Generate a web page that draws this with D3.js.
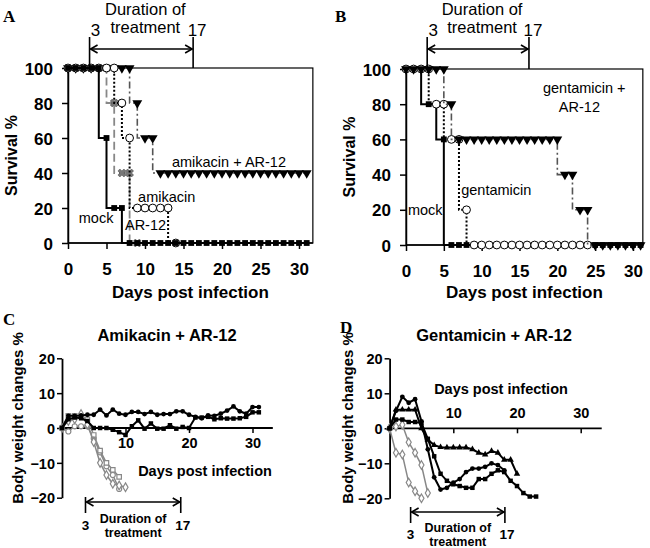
<!DOCTYPE html>
<html><head><meta charset="utf-8">
<script src="https://cdn.jsdelivr.net/npm/d3@7"></script>
<style>
body{margin:0;background:#fff}
svg{display:block;background:#fff}
text{font-family:Arial,"Liberation Sans",sans-serif;fill:#000}
.letter{font-family:"Times New Roman","Liberation Serif",serif;font-weight:bold}
</style>
</head><body>
<svg id="c" width="650" height="548"></svg>
<script>
// ---------- DATA ----------
const survTicks = [0,20,40,60,80,100];
const dayTicks = [0,5,10,15,20,25,30];
const bwTicks = [-20,-10,0,10,20];
const bwDayTicks = [10,20,30];

// Panel A: survival % per day (index = day)
const mockA   = [100,100,100,100,100,60,20,20,0,0,0,0,0,0,0,0,0,0,0,0,0,0,0,0,0,0,0,0,0,0,0,0];
const ar12A   = [100,100,100,100,100,100,80,40,40,0];
const amikA   = [100,100,100,100,100,100,100,80,60,20,20,20,20,20,0];
const amikArA = [100,100,100,100,100,100,100,100,100,80,60,60,40,40,40,40,40,40,40,40,40,40,40,40,40,40,40,40,40,40,40,40];

// Panel B
const mockB   = [100,100,100,80,80,60,0,0,0,0,0,0,0,0,0,0,0,0,0,0,0,0,0,0,0,0,0,0,0,0,0,0];
const gentB   = [100,100,100,100,80,80,60,60,20,0,0,0,0,0,0,0,0,0,0,0,0,0,0,0,0];
const gentArB = [100,100,100,100,100,100,80,60,60,60,60,60,60,60,60,60,60,60,60,60,60,40,40,20,20,0,0,0,0,0,0,0];

// Panel C: body weight change % per day (index = day)
const cBlackCirc = [0,3.5,3.5,3.6,3.8,3.8,5.3,3.6,5.3,4.1,3.8,4.6,4.6,4,4.6,3.8,4,4,4.8,4.8,3.8,3.2,2.8,3.6,3.5,4.1,5,6.2,4.8,4.1,6,6];
const cBlackSq   = [0,2.5,3,2.8,2,0,0,0,-0.5,-1.2,-2,0.5,2.2,-0.2,1.3,-0.2,-0.2,0.8,-0.2,0.3,0,3,3,3.2,2.5,2.8,2.7,2.7,2.8,3.2,4.5,4.5];
const cGrayCirc  = [0,-1,0.5,0.5,0.5,-3,-7,-11,-13.5,-17.5];
const cGraySq    = [0,3.5,3.5,3.5,2.5,-2,-6.5,-10,-12,-14];
const cGrayDiam  = [0,2,2.5,4,1,-4,-10,-13.5,-16,-16.5,-17];

// Panel D
const dBlackTri  = [0,5.3,5.3,5.3,5.3,0,-3.3,-4.8,-5.4,-5.5,-5.5,-5.5,-5.5,-6,-7,-7.5,-6.5,-7,-9,-9,-13];
const dBlackCirc = [0,5,9,7.3,8.3,2,-6,-14,-17.5,-17,-15.5,-14.5,-12.5,-11.5,-11.5,-11,-10,-10.5,-12];
const dBlackSq   = [0,2.5,2.5,1.8,1.8,1.5,-3,-8,-13,-15,-16,-16.5,-17,-17,-14.5,-14.5,-13,-12,-12.5,-15,-16.5,-18.5,-19.5,-19.5];
const dGray1     = [0,-7,-7.5,-15.5,-18,-20];
const dGray2     = [0,0.5,1,-4,-7,-10.5,-18.5];

const treatStart = 3, treatEnd = 17;

// ---------- DRAW ----------
const svg = d3.select('#c');
svg.append('rect').attr('width',650).attr('height',548).attr('fill','#fff');

const toPts = arr => arr.map((v,i)=>[i,v]);

function sym(type,size){ return d3.symbol().type(type).size(size)(); }

const markers = {
  sq:   {path: sym(d3.symbolSquare,34), fill:'#000', stroke:'none', rot:0},
  x:    {path: sym(d3.symbolCross,40), fill:'#777', stroke:'#333', rot:45, sw:0.4},
  circ: {path: sym(d3.symbolCircle,48), fill:'#fff', stroke:'#000', rot:0, sw:1},
  tri:  {path: sym(d3.symbolTriangle,42), fill:'#000', stroke:'none', rot:180},
  // small markers for weight panels
  bc:   {path: sym(d3.symbolCircle,18), fill:'#000', stroke:'none', rot:0},
  bs:   {path: sym(d3.symbolSquare,20), fill:'#000', stroke:'none', rot:0},
  bt:   {path: sym(d3.symbolTriangle,18), fill:'#000', stroke:'none', rot:0},
  gc:   {path: sym(d3.symbolCircle,20), fill:'#fff', stroke:'#888', rot:0, sw:1.2},
  gs:   {path: sym(d3.symbolSquare,20), fill:'#fff', stroke:'#888', rot:0, sw:1.2},
  gd:   {path: sym(d3.symbolDiamond,22), fill:'#fff', stroke:'#888', rot:0, sw:1.2}
};

function drawSeries(g, x, y, s, curve){
  const pts = toPts(s.values);
  const line = d3.line().x(d=>x(d[0])).y(d=>y(d[1])).curve(curve);
  g.append('path').attr('d', line(pts)).attr('fill','none')
    .attr('stroke', s.color).attr('stroke-width', s.width)
    .attr('stroke-dasharray', s.dash || null);
  const m = markers[s.marker];
  g.selectAll(null).data(pts).enter().append('path')
    .attr('d', m.path)
    .attr('transform', d=>`translate(${x(d[0])},${y(d[1])}) rotate(${m.rot})`)
    .attr('fill', m.fill).attr('stroke', m.stroke).attr('stroke-width', m.sw||0);
}

function styleAxis(a, fs){
  a.select('.domain').attr('stroke','#000').attr('stroke-width',1.5);
  a.selectAll('.tick line').attr('stroke','#000').attr('stroke-width',1.5);
  a.selectAll('.tick text').attr('font-size',fs).attr('font-weight','bold')
    .attr('font-family','Arial, "Liberation Sans", sans-serif').attr('fill','#000');
}

function arrowAnno(g, xa, xb, yTop, yBot, yArr){
  g.append('line').attr('x1',xa).attr('x2',xa).attr('y1',yTop).attr('y2',yBot).attr('stroke','#000').attr('stroke-width',1.6);
  g.append('line').attr('x1',xb).attr('x2',xb).attr('y1',yTop).attr('y2',yBot).attr('stroke','#000').attr('stroke-width',1.6);
  g.append('line').attr('x1',xa+1).attr('x2',xb-1).attr('y1',yArr).attr('y2',yArr).attr('stroke','#000').attr('stroke-width',1.6);
  g.append('path').attr('d',`M${xa+8},${yArr-4}L${xa+1},${yArr}L${xa+8},${yArr+4}`).attr('fill','none').attr('stroke','#000').attr('stroke-width',1.6);
  g.append('path').attr('d',`M${xb-8},${yArr-4}L${xb-1},${yArr}L${xb-8},${yArr+4}`).attr('fill','none').attr('stroke','#000').attr('stroke-width',1.6);
}

function txt(g, x, y, s, opts={}){
  const t = g.append('text').attr('x',x).attr('y',y).text(s)
    .attr('font-size', opts.fs||14).attr('text-anchor', opts.anchor||'start')
    .attr('font-weight', opts.bold?'bold':'normal');
  if(opts.cls) t.attr('class',opts.cls);
  if(opts.rot) t.attr('transform',`rotate(${opts.rot},${x},${y})`);
  return t;
}

// ---- Survival panels ----
function survivalPanel(cfg){
  const g = svg.append('g');
  const x = d3.scaleLinear().domain([0,30]).range(cfg.xr);
  const y = d3.scaleLinear().domain([0,100]).range(cfg.yr);
  // frame
  g.append('rect').attr('x',x(0)).attr('y',y(100)).attr('width',x(cfg.xmax)-x(0)).attr('height',y(0)-y(100))
    .attr('fill','none').attr('stroke','#000').attr('stroke-width',1.2);
  const ax = g.append('g').attr('transform',`translate(0,${y(0)})`)
    .call(d3.axisBottom(x).tickValues(dayTicks).tickSize(6).tickSizeOuter(0).tickPadding(14));
  styleAxis(ax,17); ax.select('.domain').remove();
  const ay = g.append('g').attr('transform',`translate(${x(0)},0)`)
    .call(d3.axisLeft(y).tickValues(survTicks).tickSize(6).tickSizeOuter(0).tickPadding(9));
  styleAxis(ay,17);
  ay.selectAll('.tick text').attr('dy','0.36em');
  g.append('line').attr('x1',x(0)).attr('x2',x(cfg.xmax)).attr('y1',y(0)).attr('y2',y(0)).attr('stroke','#000').attr('stroke-width',1.5);

  cfg.series.forEach(s=>drawSeries(g,x,y,s,d3.curveStepBefore));

  // axis titles
  txt(g, (x(0)+x(cfg.xmax))/2, 298, 'Days post infection', {fs:17,bold:true,anchor:'middle'});
  txt(g, cfg.ylabX, (y(0)+y(100))/2, 'Survival %', {fs:16,bold:true,anchor:'middle',rot:-90});
  // treatment annotation
  const xa = x(2.8), xb = x(16.25);
  arrowAnno(g, xa, xb, 37, y(100), 49);
  txt(g, (xa+xb)/2 + 4, 15, 'Duration of', {fs:16.5,anchor:'middle'});
  txt(g, (xa+xb)/2 + 4, 33, 'treatment', {fs:16.5,anchor:'middle'});
  txt(g, xa+6, 36, String(treatStart), {fs:17,anchor:'middle'});
  txt(g, xb+4, 36, String(treatEnd), {fs:17,anchor:'middle'});
  cfg.labels.forEach(l=>txt(g, x(l[1]), y(l[2]), l[0], {fs:14.5}));
  txt(g, cfg.letterX, 22, cfg.letter, {fs:17,cls:'letter'});
}

survivalPanel({
  xr:[68,299], yr:[243,68], xmax:31.8, ylabX:17, letter:'A', letterX:3,
  series:[
    {values:amikArA, color:'#555', width:1.6, dash:'7,3,2,3', marker:'tri'},
    {values:ar12A, color:'#888', width:1.8, dash:'8,4', marker:'x'},
    {values:amikA, color:'#000', width:2, dash:'2,2', marker:'circ'},
    {values:mockA, color:'#000', width:2, dash:null, marker:'sq'}
  ],
  labels:[['amikacin + AR-12',13.5,43.4],['amikacin',9.1,23.4],['mock',1.4,11.4],['AR-12',7.4,7.4]]
});

survivalPanel({
  xr:[406,633], yr:[245,69], xmax:31.3, ylabX:355, letter:'B', letterX:335,
  series:[
    {values:mockB, color:'#000', width:2, dash:null, marker:'sq'},
    {values:gentB, color:'#000', width:2, dash:'2,2', marker:'circ'},
    {values:gentArB, color:'#555', width:1.6, dash:'7,3,2,3', marker:'tri'}
  ],
  labels:[['gentamicin +',18.1,86.4],['AR-12',20.2,75.6],['gentamicin',7.3,28.4],['mock',0.26,17]]
});

// ---- Body weight panels ----
function weightPanel(cfg){
  const g = svg.append('g');
  const x = d3.scaleLinear().domain([0,30]).range(cfg.xr);
  const y = d3.scaleLinear().domain([-20,20]).range(cfg.yr);
  const ay = g.append('g').attr('transform',`translate(${x(0)},0)`)
    .call(d3.axisLeft(y).tickValues(bwTicks).tickSize(5).tickSizeOuter(0).tickPadding(2));
  styleAxis(ay,14.5);
  ay.selectAll('.tick text').attr('dy','0.36em');
  let ax;
  if(cfg.labelsAbove){
    ax = g.append('g').attr('transform',`translate(0,${y(0)})`)
      .call(d3.axisTop(x).tickValues(bwDayTicks).tickSize(-5).tickSizeOuter(0).tickPadding(10));
  } else {
    ax = g.append('g').attr('transform',`translate(0,${y(0)})`)
      .call(d3.axisBottom(x).tickValues(bwDayTicks).tickSize(5).tickSizeOuter(0).tickPadding(5));
  }
  styleAxis(ax,14.5); ax.select('.domain').remove();
  g.append('line').attr('x1',x(0)).attr('x2',x(cfg.xmax)).attr('y1',y(0)).attr('y2',y(0)).attr('stroke','#000').attr('stroke-width',1.8);
  ay.select('.domain').attr('stroke-width',1.8);

  cfg.series.forEach(s=>drawSeries(g,x,y,s,d3.curveLinear));

  txt(g, cfg.xtitle[0], cfg.xtitle[1], 'Days post infection', {fs:14.5,bold:true,anchor:'middle'});
  txt(g, cfg.ylabX, 418, 'Body weight changes %', {fs:15,bold:true,anchor:'middle',rot:-90});
  txt(g, cfg.title[0], 341, cfg.title[1], {fs:16.5,bold:true,anchor:'middle'});
  const xa = x(cfg.anno[0]), xb = x(cfg.anno[1]);
  arrowAnno(g, xa, xb, cfg.annoY[0], cfg.annoY[1], cfg.annoY[2]);
  txt(g, xa, cfg.annoY[3], String(treatStart), {fs:13.5,bold:true,anchor:'middle'});
  txt(g, xb+2, cfg.annoY[3], String(treatEnd), {fs:13.5,bold:true,anchor:'middle'});
  txt(g, (xa+xb)/2, cfg.annoY[4], 'Duration of', {fs:12.5,bold:true,anchor:'middle'});
  txt(g, (xa+xb)/2, cfg.annoY[4]+14, 'treatment', {fs:12.5,bold:true,anchor:'middle'});
  txt(g, cfg.letter[0], cfg.letter[1], cfg.letter[2], {fs:17,cls:'letter'});
}

weightPanel({
  xr:[62,252.5], yr:[497.7,358.3], xmax:33.2, labelsAbove:false,
  xtitle:[205,476], ylabX:23, title:[167,'Amikacin + AR-12'],
  anno:[3.7,18.7], annoY:[497,513,502,530,523], letter:[3,325,'C'],
  series:[
    {values:cGrayCirc, color:'#888', width:1.5, marker:'gc'},
    {values:cGraySq, color:'#888', width:1.5, marker:'gs'},
    {values:cGrayDiam, color:'#888', width:1.5, marker:'gd'},
    {values:cBlackSq, color:'#000', width:2, marker:'bs'},
    {values:cBlackCirc, color:'#000', width:2, marker:'bc'}
  ]
});

weightPanel({
  xr:[389.6,580.7], yr:[498.3,358.3], xmax:33.3, labelsAbove:true,
  xtitle:[501,394], ylabX:353, title:[494,'Gentamicin + AR-12'],
  anno:[3.3,18.1], annoY:[507,523,512,539,532], letter:[340,333,'D'],
  series:[
    {values:dGray1, color:'#888', width:1.5, marker:'gd'},
    {values:dGray2, color:'#888', width:1.5, marker:'gd'},
    {values:dBlackSq, color:'#000', width:2, marker:'bs'},
    {values:dBlackCirc, color:'#000', width:2, marker:'bc'},
    {values:dBlackTri, color:'#000', width:2, marker:'bt'}
  ]
});
</script>
</body></html>
